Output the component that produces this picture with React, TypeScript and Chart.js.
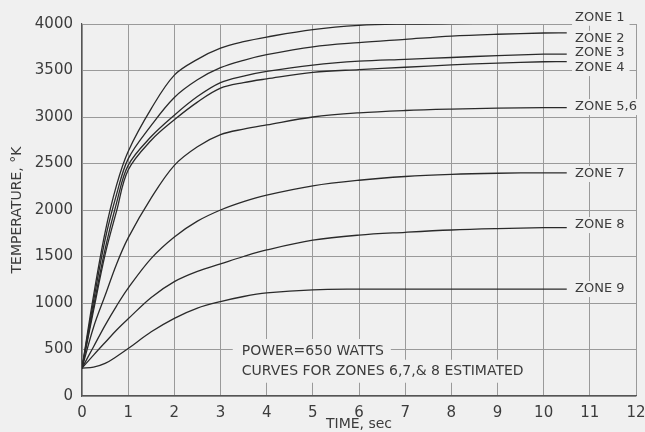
import React, { useEffect, useRef } from "react";
import { Chart, registerables } from "chart.js";

Chart.register(...registerables);

const TIME = [0, 0.25, 0.5, 0.75, 1, 1.5, 2, 2.5, 3, 3.5, 4, 5, 6, 7, 8, 9, 10, 10.5];

const ZONE_1 = [300, 1080, 1760, 2270, 2630, 3090, 3450, 3620, 3740, 3810, 3860, 3940, 3985, 4000, 4005, 4008, 4010, 4010];
const ZONE_2 = [300, 1020, 1680, 2170, 2550, 2910, 3210, 3400, 3530, 3610, 3670, 3755, 3800, 3835, 3870, 3890, 3903, 3905];
const ZONE_3 = [300, 960, 1580, 2080, 2480, 2790, 3020, 3220, 3370, 3440, 3490, 3558, 3600, 3620, 3640, 3660, 3675, 3677];
const ZONE_4 = [300, 920, 1520, 1990, 2430, 2750, 2970, 3160, 3310, 3370, 3410, 3480, 3510, 3535, 3560, 3580, 3594, 3595];
const ZONE_5_6 = [300, 740, 1080, 1420, 1700, 2130, 2480, 2680, 2810, 2870, 2915, 3000, 3045, 3070, 3085, 3095, 3100, 3100];
const ZONE_7 = [300, 530, 760, 970, 1160, 1480, 1710, 1880, 2000, 2090, 2160, 2260, 2320, 2360, 2383, 2395, 2400, 2400];
const ZONE_8 = [300, 440, 575, 710, 830, 1060, 1230, 1340, 1420, 1500, 1570, 1675, 1730, 1760, 1785, 1800, 1810, 1810];
const ZONE_9 = [300, 310, 350, 425, 510, 690, 835, 945, 1015, 1070, 1108, 1142, 1149, 1150, 1150, 1150, 1150, 1150];

const SERIES = [ZONE_1, ZONE_2, ZONE_3, ZONE_4, ZONE_5_6, ZONE_7, ZONE_8, ZONE_9];
const ZONE_LABELS = ["ZONE 1", "ZONE 2", "ZONE 3", "ZONE 4", "ZONE 5,6", "ZONE 7", "ZONE 8", "ZONE 9"];
const ZONE_LABEL_TEMP = [4067, 3841, 3687, 3526, 3107, 2387, 1838, 1150];
const ZONE_LABEL_TIME = 10.68;

const NOTE_LINES = ["POWER=650 WATTS", "CURVES FOR ZONES 6,7,& 8 ESTIMATED"];
const NOTE_TEMP = [484, 261];
const NOTE_TIME = 3.46;

const X_TITLE = "TIME, sec";
const Y_TITLE = "TEMPERATURE, °K";

const BG = "#f0f0f0";
const INK = "#2a2a2a";
const TEXT = "#3c3c3c";
const FONT = "'DejaVu Sans', sans-serif";

const overlay = {
  id: "overlay",
  beforeDraw(chart: any) {
    const ctx = chart.ctx;
    ctx.save();
    ctx.fillStyle = BG;
    ctx.fillRect(0, 0, chart.width, chart.height);
    ctx.restore();
  },
  afterDatasetsDraw(chart: any) {
    const ctx = chart.ctx;
    const xs = chart.scales.x;
    const ys = chart.scales.y;
    const area = chart.chartArea;
    ctx.save();
    ctx.textBaseline = "middle";
    ctx.textAlign = "left";

    // zone labels
    ctx.font = `13px ${FONT}`;
    ZONE_LABELS.forEach((t, i) => {
      const px = xs.getPixelForValue(ZONE_LABEL_TIME);
      const py = ys.getPixelForValue(ZONE_LABEL_TEMP[i]);
      const w = ctx.measureText(t).width;
      ctx.fillStyle = BG;
      ctx.fillRect(px - 3, py - 8, w + 8, 16);
      ctx.fillStyle = TEXT;
      ctx.fillText(t, px, py);
    });

    // note text
    ctx.font = `14px ${FONT}`;
    NOTE_LINES.forEach((t, i) => {
      const px = xs.getPixelForValue(NOTE_TIME);
      const py = ys.getPixelForValue(NOTE_TEMP[i]);
      const w = ctx.measureText(t).width;
      ctx.fillStyle = BG;
      ctx.fillRect(px - 9, py - 12, w + 16, 23);
      ctx.fillStyle = TEXT;
      ctx.fillText(t, px, py);
    });

    // axis titles
    ctx.font = `14px ${FONT}`;
    ctx.fillStyle = TEXT;
    ctx.textAlign = "center";
    ctx.fillText(X_TITLE, (area.left + area.right) / 2, 424);
    ctx.translate(17, (area.top + area.bottom) / 2);
    ctx.rotate(-Math.PI / 2);
    ctx.fillText(Y_TITLE, 0, 0);
    ctx.restore();
  },
};

export default function App() {
  const ref = useRef<HTMLCanvasElement>(null);
  useEffect(() => {
    document.body.style.margin = "0";
    document.body.style.background = BG;
    const canvas = ref.current!;
    const chart = new Chart(canvas, {
      type: "line",
      data: {
        datasets: SERIES.map((s, i) => ({
          label: ZONE_LABELS[i],
          data: s.map((v, j) => ({ x: TIME[j], y: v })),
          borderColor: INK,
          borderWidth: 1.3,
          pointRadius: 0,
          fill: false,
          tension: 0.35,
        })),
      },
      options: {
        responsive: false,
        animation: false,
        layout: { padding: { top: 24, right: 9, left: 0, bottom: 0 } },
        plugins: { legend: { display: false }, tooltip: { enabled: false } },
        scales: {
          x: {
            type: "linear",
            min: 0,
            max: 12,
            afterFit: (s: any) => {
              s.height = 36;
              s.paddingRight = 0;
              s.paddingLeft = 0;
            },
            ticks: {
              stepSize: 1,
              color: TEXT,
              font: { family: FONT, size: 15 },
              padding: 8,
              callback: (v: any) => String(v),
            },
            grid: { color: "#9a9a9a", lineWidth: 1, drawTicks: false },
            border: { color: "#555", width: 1.2 },
          },
          y: {
            type: "linear",
            min: 0,
            max: 4000,
            afterFit: (s: any) => { s.width = 82; },
            ticks: {
              stepSize: 500,
              color: TEXT,
              font: { family: FONT, size: 15 },
              padding: 9,
              callback: (v: any) => String(v),
            },
            grid: { color: "#9a9a9a", lineWidth: 1, drawTicks: false },
            border: { color: "#555", width: 1.2 },
          },
        },
      },
      plugins: [overlay],
    });
    return () => chart.destroy();
  }, []);
  return <canvas ref={ref} width={645} height={432} style={{ display: "block" }} />;
}
